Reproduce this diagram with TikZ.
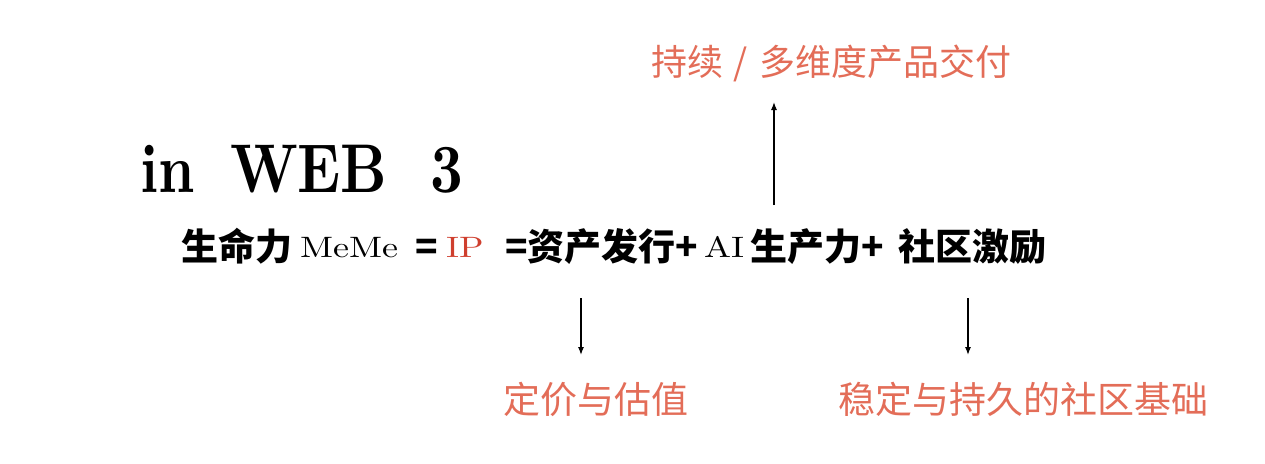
\documentclass[tikz,border=0pt]{standalone}
\usepackage{fontspec}
\usepackage{graphicx}
\newfontfamily\cjk{Noto Sans CJK SC}
\usetikzlibrary{arrows.meta}
\definecolor{labred}{HTML}{E36D58}
\definecolor{ipred}{HTML}{CF3F2E}
\newcommand{\ttlbox}[1]{\scalebox{5.7}[6.9]{\fontsize{10}{12}\selectfont\bfseries #1}}
\newcommand{\serbox}[1]{\scalebox{3.6}[2.95]{\fontsize{10}{12}\selectfont #1}}
\tikzset{
  txt/.style={inner sep=0pt, outer sep=0pt, anchor=base west},
  cjkmain/.style={txt, font=\fontsize{37}{40}\selectfont\cjk\bfseries},
  lab/.style={txt, text=labred, font=\fontsize{37}{40}\selectfont\cjk},
  arr/.style={line width=1.2pt, -{Latex[length=8pt,width=6pt]}}
}
\begin{document}
\begin{tikzpicture}[x=1pt,y=-1pt]
\useasboundingbox (0,0) rectangle (1265,463);
% title
\node[txt] (in) at (140,192) {\ttlbox{in}};
\node[txt] (web) at (230,192) {\ttlbox{WEB}};
\node[txt] (three) at (430,192) {\ttlbox{3}};
% main line
\node[cjkmain] (sml) at (181,260) {生命力};
\node[txt] (meme) at (300,257) {\serbox{MeMe}};
\node[cjkmain] (eq1) at (415,260) {=};
\node[txt, text=ipred] (ip) at (446,257) {\serbox{IP}};
\node[cjkmain] (asset) at (505,260) {=资产发行+};
\node[txt] (ai) at (704,257) {\serbox{AI}};
\node[cjkmain] (prod) at (750,260) {生产力+};
\node[cjkmain] (comm) at (898,260) {社区激励};
% labels
\node[lab, font=\fontsize{36}{40}\selectfont\cjk] (top) at (651,75) {持续\hspace{11pt}/\hspace{11pt}多维度产品交付};
\node[lab] (price) at (503,413) {定价与估值};
\node[lab] (stable) at (838,413) {稳定与持久的社区基础};
% arrows
\coordinate (u1) at (774,205);
\coordinate (u2) at (774,102);
\coordinate (d1a) at (581,298);
\coordinate (d1b) at (581,355);
\coordinate (d2a) at (968,298);
\coordinate (d2b) at (968,355);
\draw[arr] (u1) -- (u2);
\draw[arr] (d1a) -- (d1b);
\draw[arr] (d2a) -- (d2b);
\end{tikzpicture}
\end{document}
